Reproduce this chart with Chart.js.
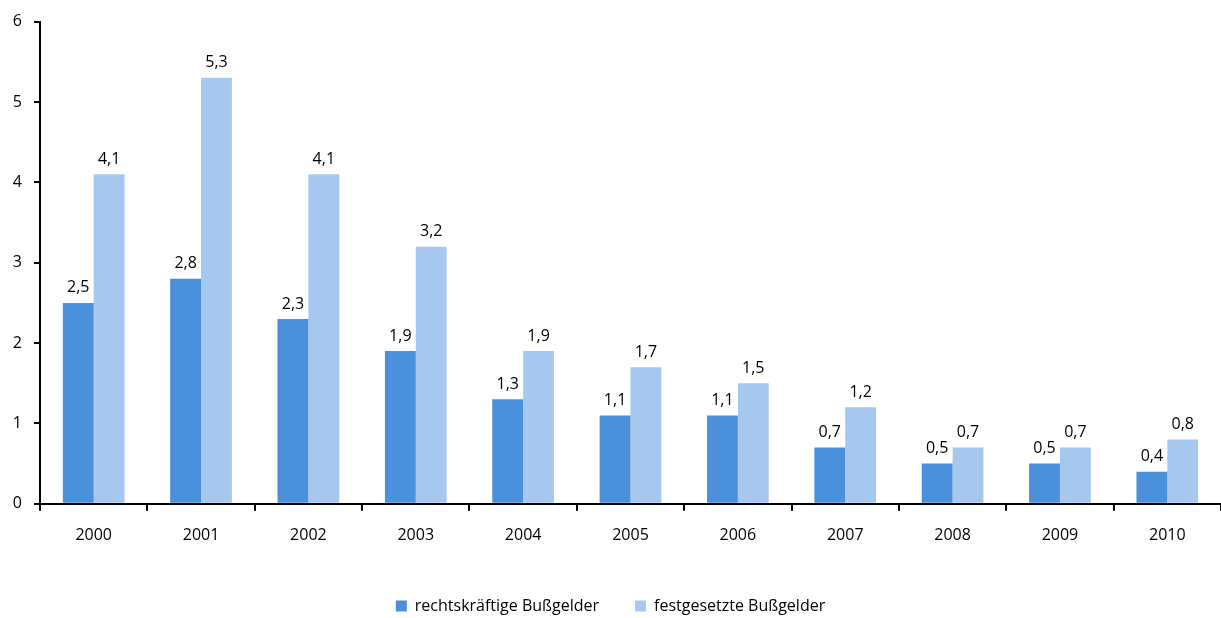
<!DOCTYPE html>
<html><head><meta charset="utf-8">
<script src="https://cdn.jsdelivr.net/npm/chart.js@4/dist/chart.umd.min.js"></script>
<style>html,body{margin:0;padding:0;background:#fff}#w{width:1221px;height:618px}</style>
</head><body><div id="w"><canvas id="c"></canvas></div>
<script>
const years = ['2000','2001','2002','2003','2004','2005','2006','2007','2008','2009','2010'];
const rechtskraeftig = [2.5,2.8,2.3,1.9,1.3,1.1,1.1,0.7,0.5,0.5,0.4];
const festgesetzt = [4.1,5.3,4.1,3.2,1.9,1.7,1.5,1.2,0.7,0.7,0.8];
const yTicks = [0,1,2,3,4,5,6];
const FONT = '"Open Sans", sans-serif';

const labelPlugin = {
  id: 'vals',
  afterDatasetsDraw(chart) {
    const ctx = chart.ctx;
    ctx.save();
    ctx.font = '16px ' + FONT;
    ctx.fillStyle = '#000';
    ctx.textAlign = 'center';
    ctx.textBaseline = 'bottom';
    chart.data.datasets.forEach((ds, i) => {
      chart.getDatasetMeta(i).data.forEach((bar, j) => {
        ctx.fillText(ds.data[j].toFixed(1).replace('.', ','), bar.x, bar.y - 7);
      });
    });
    ctx.restore();
  }
};

new Chart(document.getElementById('c'), {
  type: 'bar',
  data: {
    labels: years,
    datasets: [
      {label: 'rechtskräftige Bußgelder', data: rechtskraeftig, backgroundColor: '#4a90db'},
      {label: 'festgesetzte Bußgelder', data: festgesetzt, backgroundColor: '#a7c8ee'}
    ]
  },
  options: {
    responsive: true, maintainAspectRatio: false, animation: false,
    layout: {padding: {top: 12, right: 0, left: 0, bottom: -6}},
    datasets: {bar: {categoryPercentage: 0.575, barPercentage: 1.0}},
    plugins: {
      legend: {position: 'bottom', labels: {font: {size: 16, family: FONT}, color: '#000', boxWidth: 11, boxHeight: 11, padding: 36}},
      tooltip: {enabled: false}
    },
    scales: {
      x: {
        afterFit: s => { s.height += 2; },
        grid: {drawOnChartArea: false, drawTicks: true, tickLength: 7, color: '#000', lineWidth: 2},
        border: {display: true, color: '#000', width: 2},
        ticks: {font: {size: 16, family: FONT}, color: '#000', padding: 15}
      },
      y: {
        min: 0, max: 6,
        afterBuildTicks: s => { s.ticks = yTicks.map(v => ({value: v})); },
        afterFit: s => { s.width = 40; },
        grid: {drawOnChartArea: false, drawTicks: true, tickLength: 6, color: '#000', lineWidth: 2},
        border: {display: true, color: '#000', width: 2},
        ticks: {font: {size: 16, family: FONT}, color: '#000', padding: 12}
      }
    }
  },
  plugins: [labelPlugin]
});
</script></body></html>
